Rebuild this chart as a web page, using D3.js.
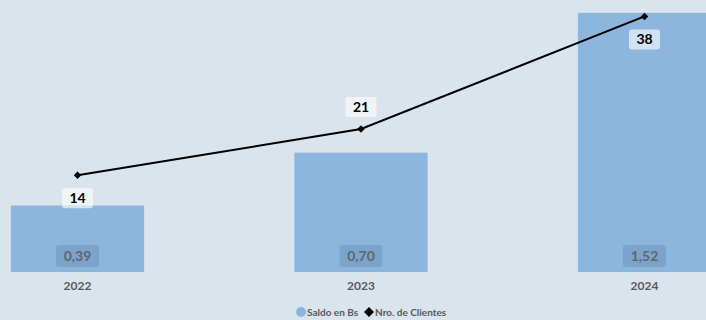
<!DOCTYPE html>
<head>
<meta charset="utf-8">
<title>Saldo en Bs y Nro. de Clientes</title>
<script src="https://cdn.jsdelivr.net/npm/d3@7"></script>
<style>
body { margin: 0; background: #dae4ed; }
svg { display: block; font-family: Lato, "Open Sans", sans-serif; }
.bar { fill: #8cb6de; }
.serie_line { fill: none; stroke: #000; stroke-width: 2; }
.year_label { fill: #595959; font-size: 12px; font-weight: bold; }
.bar_label { fill: #5f666e; font-size: 14px; font-weight: bold; }
.line_label { fill: #000; font-size: 14px; font-weight: bold; }
.legend text { fill: #595959; font-size: 10px; font-weight: bold; }
</style>
</head>
<body>
<div id="container"></div>
<script>

//------------------------DATA-------------------------//
const years = ["2022", "2023", "2024"];
const saldo = [0.39, 0.70, 1.52];
const clientes = [14, 21, 38];
const labelSide = ["below", "above", "below"];

//------------------------SVG-------------------------//
const width = 706, height = 320;

const svg = d3.select("#container")
  .append("svg")
    .attr("width", width)
    .attr("height", height);

svg.append("rect")
    .attr("width", width)
    .attr("height", height)
    .attr("fill", "#dae4ed");

//------------------------SCALES-------------------------//
const xScale = d3.scaleBand()
    .domain(years)
    .range([-64.25, 786.25])
    .paddingInner(0.53)
    .paddingOuter(0.265);

const yBar = d3.scaleLinear()
    .domain([0, 1.6])
    .range([272, -0.8]);

const yLine = d3.scaleLinear()
    .domain([0, 40])
    .range([268, 3.2]);

const fmt = d => d3.format(".2f")(d).replace(".", ",");
const cx = d => xScale(d) + xScale.bandwidth() / 2;

//------------------------BARS-------------------------//
svg.selectAll(".bar")
  .data(years)
  .enter()
  .append("rect")
    .attr("class", "bar")
    .attr("x", d => xScale(d))
    .attr("y", (d, i) => yBar(saldo[i]))
    .attr("width", xScale.bandwidth())
    .attr("height", (d, i) => yBar(0) - yBar(saldo[i]));

// bar value labels
const barLab = svg.selectAll(".barlab")
  .data(years)
  .enter()
  .append("g")
    .attr("transform", d => "translate(" + cx(d) + "," + (yBar(0) - 16) + ")");

barLab.append("rect")
    .attr("x", -21.5).attr("y", -11)
    .attr("width", 43).attr("height", 22)
    .attr("rx", 3)
    .attr("fill", "#5f83a8")
    .attr("fill-opacity", 0.35);

barLab.append("text")
    .attr("class", "bar_label")
    .attr("text-anchor", "middle")
    .attr("dy", "0.36em")
    .text((d, i) => fmt(saldo[i]));

// year labels
svg.selectAll(".year_label")
  .data(years)
  .enter()
  .append("text")
    .attr("class", "year_label")
    .attr("x", d => cx(d))
    .attr("y", 290)
    .attr("text-anchor", "middle")
    .text(d => d);

//------------------------LINE-------------------------//
const line = d3.line()
    .x((d, i) => cx(years[i]))
    .y(d => yLine(d));

svg.append("path")
    .attr("class", "serie_line")
    .attr("d", line(clientes));

// square rotated 45deg = Excel diamond marker
svg.selectAll(".point")
  .data(clientes)
  .enter()
  .append("path")
    .attr("d", d3.symbol().type(d3.symbolSquare).size(28))
    .attr("transform", (d, i) => "translate(" + cx(years[i]) + "," + yLine(d) + ") rotate(45)")
    .attr("fill", "#000");

const lineLab = svg.selectAll(".linelab")
  .data(clientes)
  .enter()
  .append("g")
    .attr("transform", (d, i) => "translate(" + cx(years[i]) + "," +
      (yLine(d) + (labelSide[i] === "above" ? -22 : 23)) + ")");

lineLab.append("rect")
    .attr("x", -15.5).attr("y", -10)
    .attr("width", 31).attr("height", 20)
    .attr("rx", 3)
    .attr("fill", "#ffffff")
    .attr("fill-opacity", 0.6);

lineLab.append("text")
    .attr("class", "line_label")
    .attr("text-anchor", "middle")
    .attr("dy", "0.36em")
    .text(d => d);

//------------------------LEGEND-------------------------//
const legend = svg.append("g").attr("class", "legend");

legend.append("circle")
    .attr("cx", 301).attr("cy", 312).attr("r", 5)
    .attr("fill", "#8cb6de");
legend.append("text")
    .attr("x", 307).attr("y", 315.5)
    .text("Saldo en Bs");

legend.append("path")
    .attr("d", d3.symbol().type(d3.symbolSquare).size(50))
    .attr("transform", "translate(369,312) rotate(45)")
    .attr("fill", "#000");
legend.append("text")
    .attr("x", 375).attr("y", 315.5)
    .text("Nro. de Clientes");

</script>
</body>
